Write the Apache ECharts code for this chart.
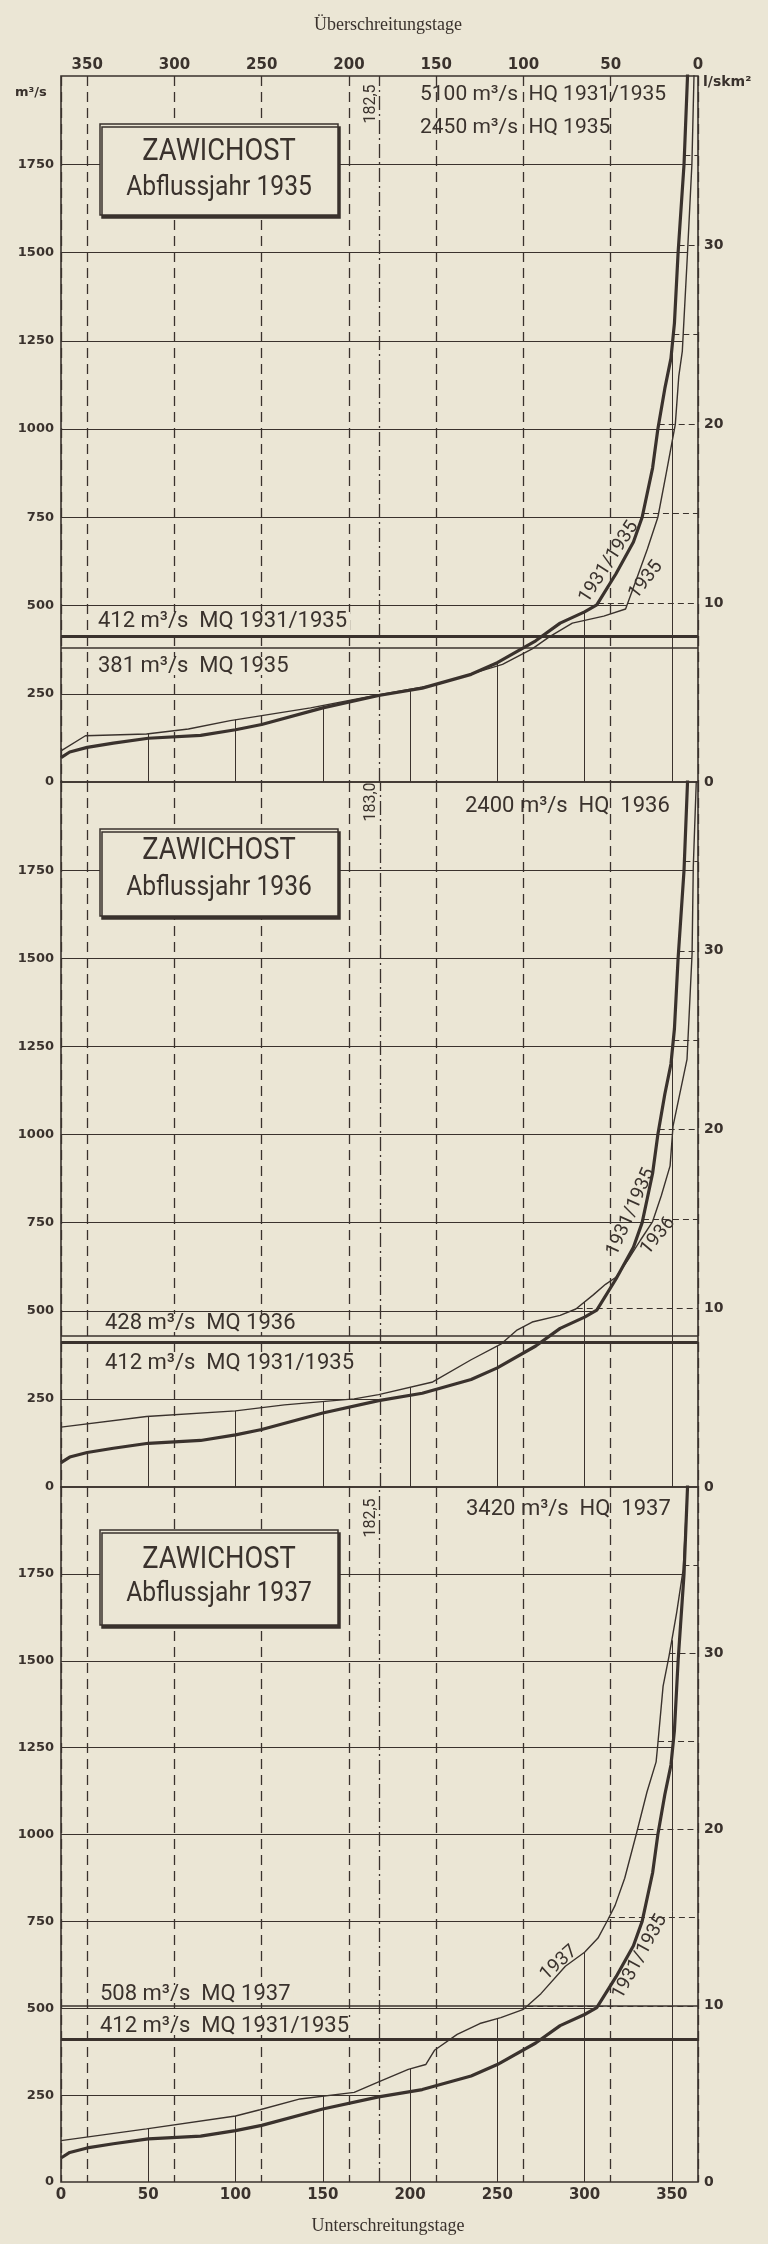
<!DOCTYPE html>
<html>
<head>
<meta charset="utf-8">
<script src="https://cdn.jsdelivr.net/npm/echarts@6/dist/echarts.min.js"></script>
<style>
html, body { margin: 0; padding: 0; background: #ebe6d5; }
#chart { width: 768px; height: 2244px; }
</style>
</head>
<body>
<div id="chart"></div>
<script>
// Zawichost (Weichsel) - Dauerlinien der Abflüsse
var AREA = 50.7; // Einzugsgebiet in 1000 km2 -> 1 l/s km2 = 50,7 m3/s
var dayTicks = [50, 100, 150, 200, 250, 300, 350];
var qTicks = [250, 500, 750, 1000, 1250, 1500, 1750];
var spendeTicks = [10, 15, 20, 25, 30, 35];
var years = ['1935', '1936', '1937'];
var hqYear = [2450, 2400, 3420];
var mqYear = [381, 428, 508];
var medianDay = [182.5, 183.0, 182.5];
var hqMean = 5100;
var mqMean = 412;

// [Unterschreitungstage, m3/s]
var dauer3135 = [[0, 69], [5, 85], [15, 98], [30, 110], [50, 124], [80, 132], [100, 148], [115, 163],
    [150, 210], [182, 245], [207, 266], [235, 305], [250, 338], [272, 400], [286, 450], [300, 482],
    [307, 502], [318, 590], [328, 680], [333, 750], [339, 890], [342, 1000], [346, 1115], [349.5, 1200],
    [351.5, 1300], [353.6, 1500], [357, 1750], [359, 2000], [365, 5100]];
var dauer1935 = [[0, 88], [14, 131], [49, 136], [73, 150], [97, 174], [143, 210], [180, 245], [215, 276],
    [253, 333], [270, 377], [280, 412], [293, 450], [311, 470], [323.5, 490], [330, 578], [336, 660],
    [342, 750], [347, 880], [352, 1013], [354, 1150], [356, 1220], [359, 1500], [361.5, 1750],
    [362.7, 2000], [365, 2450]];
var dauer1936 = [[0, 170], [49, 200], [100, 216], [128, 233], [168, 250], [182, 262], [213, 298],
    [235, 361], [252, 405], [261, 444], [270, 468], [286, 487], [295, 505], [305, 545], [312, 575],
    [318, 595], [325, 645], [332, 700], [339, 753], [344, 827], [349, 911], [350.7, 1024],
    [358.7, 1213], [361.6, 1512], [362.3, 1760], [364, 2000], [365, 2400]];
var dauer1937 = [[0, 119], [49, 153], [100, 190], [114, 208], [137, 239], [168, 258], [182, 288],
    [199, 324], [209, 338], [214, 379], [227, 425], [240, 456], [252, 473], [265, 497], [275, 542],
    [289, 621], [300, 661], [307.7, 702], [313.5, 756], [317.5, 796], [323, 874], [330, 1008],
    [335.8, 1123], [341, 1209], [342, 1261], [345, 1427], [348.4, 1513], [352.8, 1639],
    [356.5, 1762], [359, 2000], [365, 3420]];
var yearCurves = [dauer1935, dauer1936, dauer1937];

var ink = '#3a322d';
var paper = '#ebe6d5';
var tickFont = '"DejaVu Sans", sans-serif';
var textFont = 'Roboto, "Liberation Sans", sans-serif';

// Abfluss an einem Tag (lineare Interpolation)
var qAt = function (c, d) {
    for (var i = 1; i < c.length; i++) {
        if (d <= c[i][0]) {
            var t = (d - c[i - 1][0]) / (c[i][0] - c[i - 1][0]);
            return c[i - 1][1] + t * (c[i][1] - c[i - 1][1]);
        }
    }
    return c[c.length - 1][1];
};
// Tag, an dem ein Abfluss erreicht wird
var dayAt = function (c, q) {
    for (var i = 1; i < c.length; i++) {
        if (q <= c[i][1]) {
            var t = (q - c[i - 1][1]) / (c[i][1] - c[i - 1][1]);
            return c[i - 1][0] + t * (c[i][0] - c[i - 1][0]);
        }
    }
    return 365;
};

var gridTop = [76, 782, 1487];
var gridH = [706, 705, 695];

var grids = [], xAxes = [], yAxes = [], series = [], graphics = [];

var seg = function (a, b, style) {
    return [{ coord: a, lineStyle: style }, { coord: b }];
};
var plain = function (v) { return String(v); };

for (var i = 0; i < 3; i++) {
    var year = yearCurves[i];
    grids.push({ left: 61, right: 70, top: gridTop[i], height: gridH[i], show: true,
        borderColor: ink, borderWidth: 1.6, backgroundColor: 'transparent' });

    xAxes.push({ gridIndex: i, type: 'value', min: 0, max: 365, interval: 50, position: 'bottom',
        axisLine: { show: false }, axisTick: { show: false }, splitLine: { show: false },
        axisLabel: { show: i === 2, showMaxLabel: false, margin: 6, color: ink, formatter: plain,
            fontFamily: tickFont, fontWeight: 'bold', fontSize: 15 } });
    xAxes.push({ gridIndex: i, type: 'value', min: 0, max: 365, interval: 50, position: 'top', inverse: true,
        axisLine: { show: false }, axisTick: { show: false },
        splitLine: { show: true, lineStyle: { color: ink, width: 1.3, type: [10, 6] } },
        axisLabel: { show: i === 0, showMaxLabel: false, margin: 3, color: ink, formatter: plain,
            fontFamily: tickFont, fontWeight: 'bold', fontSize: 15 } });

    yAxes.push({ gridIndex: i, type: 'value', min: 0, max: 2000, interval: 250, position: 'left',
        axisLine: { show: false }, axisTick: { show: false }, splitLine: { show: false },
        axisLabel: { showMaxLabel: false, margin: 7, color: ink,
            fontFamily: tickFont, fontWeight: 'bold', fontSize: 13,
            formatter: function (v) { return v >= 2000 ? '' : String(v); } } });
    yAxes.push({ gridIndex: i, type: 'value', min: 0, max: 2000 / AREA, interval: 5, position: 'right',
        axisLine: { show: false }, axisTick: { show: false }, splitLine: { show: false },
        axisLabel: { showMaxLabel: false, margin: 6, color: ink,
            fontFamily: tickFont, fontWeight: 'bold', fontSize: 14,
            formatter: function (v) { return (v % 10 === 0 && v <= 30) ? String(v) : ''; } } });

    var lines = [];
    // waagerechte Gitterlinien bis zur Dauerlinie
    qTicks.forEach(function (q) {
        var d = Math.max(dayAt(dauer3135, q), dayAt(year, q));
        lines.push(seg([0, q], [d, q], { width: 1.1, type: 'solid' }));
    });
    // senkrechte Linien bis zur Dauerlinie
    dayTicks.forEach(function (d) {
        var q = Math.max(qAt(dauer3135, d), qAt(year, d));
        lines.push(seg([d, 0], [d, q], { width: 1, type: 'solid' }));
    });
    // Abflussspende
    spendeTicks.forEach(function (s) {
        var q = s * AREA;
        var d = Math.min(dayAt(dauer3135, q), dayAt(year, q));
        lines.push(seg([d, q], [365, q], { width: 1, type: [6, 4] }));
    });
    lines.push({ yAxis: mqMean, lineStyle: { width: 3.2, type: 'solid' } });
    lines.push({ yAxis: mqYear[i], lineStyle: { width: 1.7, type: 'solid' } });
    lines.push({ xAxis: medianDay[i], lineStyle: { width: 1.3, type: [14, 4, 2, 4] } });

    series.push({ type: 'line', xAxisIndex: 2 * i, yAxisIndex: 2 * i, data: [], z: 3,
        markLine: { symbol: ['none', 'none'], silent: true, animation: false, label: { show: false },
            lineStyle: { color: ink }, data: lines } });
    series.push({ type: 'line', name: '1931/1935', xAxisIndex: 2 * i, yAxisIndex: 2 * i, data: dauer3135,
        symbol: 'none', clip: true, z: 5, animation: false, lineStyle: { color: ink, width: 3.2 } });
    series.push({ type: 'line', name: years[i], xAxisIndex: 2 * i, yAxisIndex: 2 * i, data: year,
        symbol: 'none', clip: true, z: 5, animation: false, lineStyle: { color: ink, width: 1.4 } });
}

var txt = function (x, y, s, size, o) {
    o = o || {};
    return {
        type: 'text', x: x, y: y, z: 30, rotation: o.rot || 0, scaleX: o.sx || 1,
        style: { text: s, font: (o.weight || 'normal') + ' ' + size + 'px ' + (o.family || textFont),
            fill: ink, align: o.align || 'left', verticalAlign: 'middle',
            lineHeight: o.bg ? Math.round(size * 0.8) : undefined,
            backgroundColor: o.bg, padding: o.bg ? [0, 3] : 0 }
    };
};
var deg = Math.PI / 180;
var serif = '"Liberation Serif", "DejaVu Serif", serif';

graphics.push(txt(388, 25, 'Überschreitungstage', 18, { align: 'center', family: serif }));
graphics.push(txt(388, 2226, 'Unterschreitungstage', 18, { align: 'center', family: serif }));
graphics.push(txt(15, 93, 'm³/s', 13, { family: tickFont, weight: 'bold' }));
graphics.push(txt(703, 82, 'l/skm²', 14, { family: tickFont, weight: 'bold' }));

// Kästen mit Pegelname
var boxY = [124, 829, 1530];
var boxH = [91, 87, 95];
var zawiY = [152, 851, 1560];
var abflY = [188, 888, 1594];
for (var k = 0; k < 3; k++) {
    graphics.push({ type: 'rect', z: 20, shape: { x: 100, y: boxY[k], width: 238, height: boxH[k] },
        style: { fill: paper, stroke: ink, lineWidth: 1.5, shadowColor: ink, shadowBlur: 0,
            shadowOffsetX: 2, shadowOffsetY: 3 } });
    graphics.push(txt(219, zawiY[k], 'ZAWICHOST', 31, { align: 'center', sx: 0.88 }));
    graphics.push(txt(219, abflY[k], 'Abflussjahr ' + years[k], 28, { align: 'center', sx: 0.88 }));
    var medLabel = medianDay[k].toFixed(1).replace('.', ',');
    graphics.push(txt(371, [104, 802, 1518][k], medLabel, 16, { align: 'center', rot: 90 * deg }));
}

// HQ
graphics.push(txt(420, 95, hqMean + ' m³/s  HQ 1931/1935', 21));
graphics.push(txt(420, 128, hqYear[0] + ' m³/s  HQ 1935', 21));
graphics.push(txt(465, 806, hqYear[1] + ' m³/s  HQ  1936', 22));
graphics.push(txt(466, 1509, hqYear[2] + ' m³/s  HQ  1937', 22));

// MQ
graphics.push(txt(95, 621, mqMean + ' m³/s  MQ 1931/1935', 22, { bg: paper }));
graphics.push(txt(95, 666, mqYear[0] + ' m³/s  MQ 1935', 22, { bg: paper }));
graphics.push(txt(102, 1323, mqYear[1] + ' m³/s  MQ 1936', 22, { bg: paper }));
graphics.push(txt(102, 1363, mqMean + ' m³/s  MQ 1931/1935', 22, { bg: paper }));
graphics.push(txt(97, 1994, mqYear[2] + ' m³/s  MQ 1937', 22, { bg: paper }));
graphics.push(txt(97, 2026, mqMean + ' m³/s  MQ 1931/1935', 22, { bg: paper }));

// Beschriftung der Dauerlinien
graphics.push(txt(609, 562, '1931/1935', 19, { align: 'center', rot: 57 * deg }));
graphics.push(txt(646, 580, years[0], 19, { align: 'center', rot: 52 * deg }));
graphics.push(txt(631, 1212, '1931/1935', 19, { align: 'center', rot: 66 * deg }));
graphics.push(txt(658, 1236, years[1], 19, { align: 'center', rot: 50 * deg }));
graphics.push(txt(559, 1963, years[2], 19, { align: 'center', rot: 42 * deg }));
graphics.push(txt(640, 1957, '1931/1935', 19, { align: 'center', rot: 61 * deg }));

var chart = echarts.init(document.getElementById('chart'));
chart.setOption({
    backgroundColor: paper,
    animation: false,
    grid: grids,
    xAxis: xAxes,
    yAxis: yAxes,
    series: series,
    graphic: graphics
});
</script>
</body>
</html>
